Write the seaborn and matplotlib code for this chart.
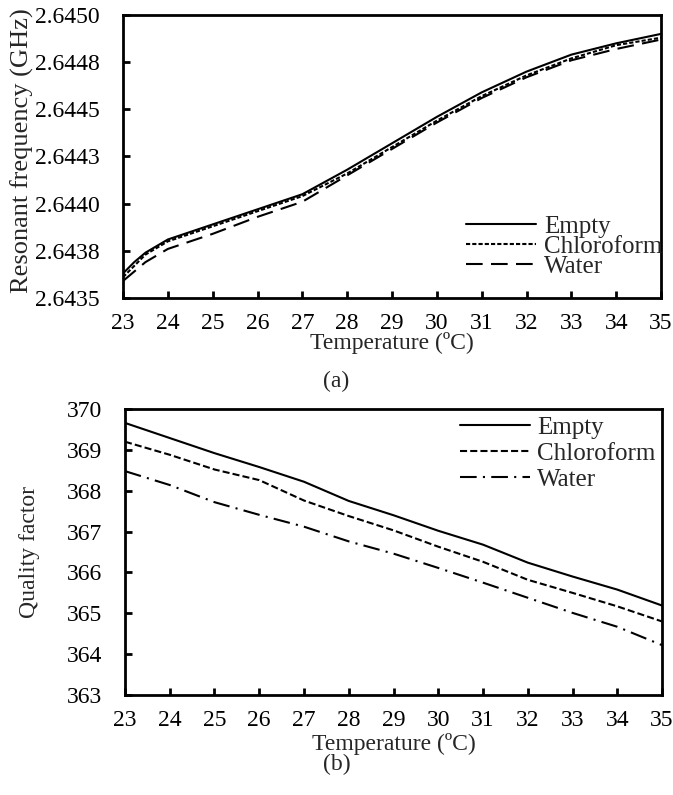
import numpy as np
import pandas as pd
import matplotlib
matplotlib.use('Agg')
import matplotlib.pyplot as plt
import seaborn as sns

# ── datos ──────────────────────────────────────────────────────────────────
temp_a = [23, 23.25, 23.5, 24, 25, 26, 27, 28, 29, 30, 31, 32, 33, 34, 35]
freq_empty = [2.64363, 2.64369, 2.64374, 2.64381, 2.64389, 2.64397, 2.64405, 2.64418,
              2.64432, 2.64446, 2.64459, 2.64470, 2.64479, 2.64485, 2.64490]
freq_chloro = [2.64361, 2.64367, 2.64373, 2.64380, 2.64388, 2.64396, 2.64404, 2.64416,
               2.64430, 2.64444, 2.64457, 2.64468, 2.64477, 2.64484, 2.64488]
freq_water = [2.64359, 2.64364, 2.64369, 2.64376, 2.64384, 2.64393, 2.64401, 2.64415,
              2.64429, 2.64443, 2.64456, 2.64467, 2.64476, 2.64482, 2.64487]

temp_b = [23, 24, 25, 26, 27, 28, 29, 30, 31, 32, 33, 34, 35]
q_empty = [369.66, 369.29, 368.92, 368.58, 368.22, 367.75, 367.40, 367.02, 366.68,
           366.24, 365.90, 365.58, 365.19]
q_chloro = [369.20, 368.88, 368.52, 368.26, 367.76, 367.38, 367.03, 366.63, 366.26,
            365.82, 365.50, 365.17, 364.80]
q_water = [368.48, 368.14, 367.72, 367.41, 367.12, 366.76, 366.46, 366.11, 365.75,
           365.38, 365.01, 364.67, 364.22]

series_names = ['Empty', 'Chloroform', 'Water']
x_ticks = list(range(23, 36))
freq_ticks = [2.6435, 2.64375, 2.6440, 2.64425, 2.6445, 2.64475, 2.6450]
freq_tick_labels = ['2.6435', '2.6438', '2.6440', '2.6443', '2.6445', '2.6448', '2.6450']
q_ticks = [363, 364, 365, 366, 367, 368, 369, 370]

# ── estilo ──────────────────────────────────────────────────────────────────
sns.set_theme(style='ticks')
plt.rcParams['font.family'] = ['Liberation Serif', 'DejaVu Serif']
FS = 17      # ticks y ejes x
FS_LEG = 18  # leyendas

fig = plt.figure(figsize=(6.73, 7.95), dpi=100)
ax1 = fig.add_axes([0.1828, 0.6252, 0.7994, 0.3559])
ax2 = fig.add_axes([0.1857, 0.1258, 0.7980, 0.3597])

def estilo_ejes(ax):
    for s in ax.spines.values():
        s.set_linewidth(2.0)
        s.set_color('black')
    ax.tick_params(axis='both', direction='in', length=5, width=2, colors='black',
                   labelsize=FS)
    ax.tick_params(axis='y', pad=16.5)
    ax.tick_params(axis='x', pad=11)
    ax.set_xlim(23, 35)
    ax.set_xticks(x_ticks)

# ── Panel (a) ───────────────────────────────────────────────────────────────
estilos_a = ['-', (0, (2, 1)), (0, (8, 4))]
for nombre, valores, ls in zip(series_names, [freq_empty, freq_chloro, freq_water], estilos_a):
    sns.lineplot(x=temp_a, y=valores, ax=ax1, color='black', linewidth=1.5,
                 linestyle=ls, label=nombre)
estilo_ejes(ax1)
ax1.set_ylim(2.6435, 2.6450)
ax1.set_yticks(freq_ticks, freq_tick_labels)
ax1.set_xlabel('Temperature (ºC)', fontsize=FS)
ax1.set_ylabel('Resonant frequency (GHz)', fontsize=19)
ax1.xaxis.set_label_coords(0.5, -0.121)
ax1.yaxis.set_label_coords(-0.166, 0.519)
ax1.legend(loc='lower right', bbox_to_anchor=(1.002, 0.072), frameon=False, fontsize=FS_LEG,
           handlelength=2.8, handletextpad=0.3, labelspacing=-0.11, borderpad=0,
           borderaxespad=0)

# ── Panel (b) ───────────────────────────────────────────────────────────────
estilos_b = ['-', (0, (3.4, 1.5)), (0, (8, 3, 1, 3))]
for nombre, valores, ls in zip(series_names, [q_empty, q_chloro, q_water], estilos_b):
    sns.lineplot(x=temp_b, y=valores, ax=ax2, color='black', linewidth=1.5,
                 linestyle=ls, label=nombre)
estilo_ejes(ax2)
ax2.set_ylim(363, 370)
ax2.set_yticks(q_ticks)
ax2.set_xlabel('Temperature (ºC)', fontsize=FS)
ax2.set_ylabel('Quality factor', fontsize=FS)
ax2.xaxis.set_label_coords(0.5, -0.133)
ax2.yaxis.set_label_coords(-0.158, 0.5)
ax2.legend(loc='upper right', bbox_to_anchor=(0.988, 0.975), frameon=False, fontsize=FS_LEG,
           handlelength=2.8, handletextpad=0.3, labelspacing=0.15, borderpad=0,
           borderaxespad=0)

fig.text(0.5, 1 - 381 / 795, '(a)', ha='center', va='center', fontsize=FS)
fig.text(0.5, 1 - 764 / 795, '(b)', ha='center', va='center', fontsize=FS)

fig.savefig('out.png', dpi=100, facecolor='white')
